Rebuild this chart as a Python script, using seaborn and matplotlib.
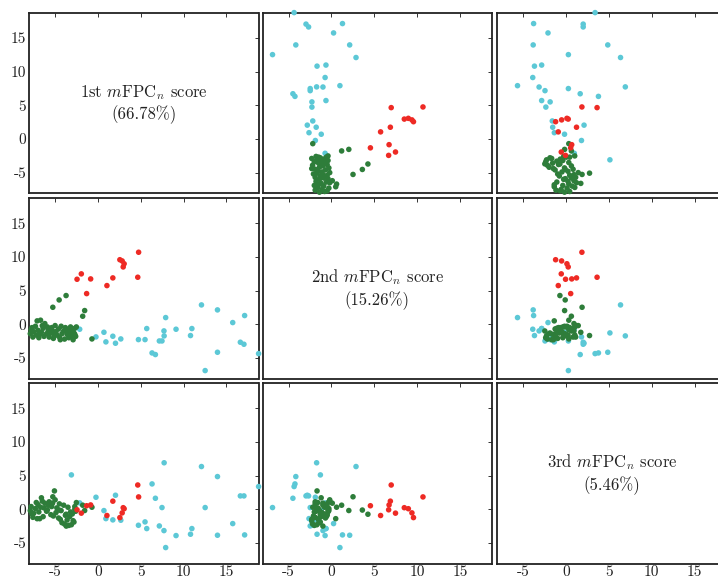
import pandas as pd
import matplotlib
matplotlib.use("Agg")
import matplotlib.pyplot as plt
import seaborn as sns

# mFPC_n scores, one list per group and component
cyan_pc1 = [-3.1, -2.13, -0.23, 0.70, 0.93, 1.74, 2.05, 2.67, 4.73, 5.50,
            5.70, 6.32, 6.71, 7.17, 7.48, 7.71, 7.73, 7.91, 9.12, 10.81,
            10.97, 12.09, 12.52, 13.96, 13.96, 15.74, 16.63, 17.05, 17.13, 18.76]
cyan_pc2 = [-1.29, -0.74, -1.88, -1.19, -2.62, -1.78, -2.82, -2.18, -2.28, -2.28,
            -0.64, -4.26, -4.50, -2.48, -2.48, -0.99, -1.73, 0.99, -0.74, -1.68,
            -0.64, 2.87, -6.88, -4.16, 2.13, 0.25, -2.67, -2.97, 1.29, -4.36]
cyan_pc3 = [5.10, 0.94, 1.78, -0.20, -1.39, -1.58, 2.08, -1.63, -2.38, -1.88,
            -2.87, 3.76, 1.63, -2.48, 0.25, -3.17, 6.90, -5.69, -3.91, -3.71,
            -2.87, 6.34, 0.25, 4.85, -3.86, -2.13, 1.98, 1.98, -3.81, 3.37]

green_pc1 = [-0.70, -1.55, -1.78, -3.72, -4.53, -5.27, -2.52, -5.08,
             -7.9, -7.8, -7.6, -7.5, -7.3, -7.2, -7.1, -7.0, -6.9, -6.7,
             -6.6, -6.4, -6.3, -6.2, -6.0, -5.8, -5.7, -5.5, -5.4, -5.2,
             -5.0, -4.9, -4.8, -4.6, -4.5, -4.3, -4.2, -4.0, -3.9, -3.8,
             -3.6, -3.5, -3.4, -3.3, -3.2, -3.1, -3.0, -2.9, -2.8, -2.7,
             -2.6, -7.7, -6.8, -5.9, -5.3, -4.4, -3.7, -2.7, -6.5]
green_pc2 = [-2.18, 2.03, 1.19, 4.26, 3.61, 2.52, -0.40, -1.68,
             -1.4, -0.8, -1.9, -1.1, -0.3, -1.6, 0.5, -0.9, -2.0, 0.6,
             -1.2, -0.6, -1.8, 0.1, -1.4, -0.9, -1.9, -1.3, -0.5, -2.1,
             -0.2, -1.1, -1.6, -0.7, -1.9, -0.3, -1.4, -1.0, -2.2, -0.5,
             -1.5, -0.8, -2.0, -1.2, -0.4, -1.7, -0.9, -2.3, -1.3, -0.6,
             -1.8, -0.5, -1.5, -0.4, -1.0, -2.3, -1.0, -1.5, -0.2]
green_pc3 = [0.30, -0.19, 0.60, -0.74, -0.12, 1.85, 0.99, 2.72,
             -0.2, 0.4, -1.2, -0.6, 0.1, 1.0, -1.4, 0.7, -0.4, 0.3,
             1.7, -1.1, 0.2, 0.9, -0.3, 0.6, 1.1, -0.8, 0.4, -1.0,
             1.4, -0.5, 0.2, -1.3, 0.8, -0.2, -2.0, 0.6, -2.2, -0.9,
             -1.6, 0.3, -2.4, -1.1, -0.4, -2.3, -0.7, -1.7, -1.9, 0.4,
             -0.3, -0.7, -1.4, -0.1, 0.9, -1.5, -2.5, 0.0, 1.2]

red_pc1 = [-2.44, -1.94, -1.32, -0.85, 1.05, 1.74, 2.56, 2.83, 2.95, 3.06, 4.65, 4.75]
red_pc2 = [6.68, 7.48, 4.55, 6.73, 5.74, 6.88, 9.58, 9.40, 8.51, 8.98, 6.98, 10.69]
red_pc3 = [-0.08, -0.58, 0.52, 0.64, -0.93, 1.20, -1.24, -0.54, 0.23, 0.08, 3.60, 1.83]

score_names = ["1st", "2nd", "3rd"]
explained = ["66.78", "15.26", "5.46"]
tick_vals = [-5, 0, 5, 10, 15]
tick_labels = ["-5", "0", "5", "10", "15"]

palette = {"cyan": "#5cc8d6", "green": "#2e7d3a", "red": "#ee2a24"}

df = pd.concat([
    pd.DataFrame({"pc1": cyan_pc1, "pc2": cyan_pc2, "pc3": cyan_pc3, "group": "cyan"}),
    pd.DataFrame({"pc1": green_pc1, "pc2": green_pc2, "pc3": green_pc3, "group": "green"}),
    pd.DataFrame({"pc1": red_pc1, "pc2": red_pc2, "pc3": red_pc3, "group": "red"}),
], ignore_index=True)
cols = ["pc1", "pc2", "pc3"]

sns.set_style("white")
plt.rcParams["font.family"] = ["cmr10", "DejaVu Serif"]
plt.rcParams["mathtext.fontset"] = "cm"
plt.rcParams["axes.unicode_minus"] = False

W, H = 718, 580
fig = plt.figure(figsize=(W / 100, H / 100), dpi=100)

# panel boxes in pixels (the third column runs past the right edge)
lefts = [29, 262.5, 497.3]
tops = [13, 198.3, 383.3]
pw, ph = 229.5, 180.5

for i in range(3):
    for j in range(3):
        ax = fig.add_axes([lefts[j] / W, 1 - (tops[i] + ph) / H, pw / W, ph / H])
        ax.set_xlim(-8.05, 18.75)
        ax.set_ylim(-8.1, 18.7)
        if i == j:
            ax.text(0.5, 0.5,
                    score_names[i] + r" $m\mathrm{FPC}_n$ score" + "\n(" + explained[i] + "%)",
                    transform=ax.transAxes, ha="center", va="center",
                    fontsize=12, color="#222222", linespacing=1.25)
        else:
            sns.scatterplot(data=df, x=cols[j], y=cols[i], hue="group",
                            palette=palette, s=16, linewidth=0, alpha=1,
                            legend=False, ax=ax, clip_on=False, zorder=3)
        ax.set_xlabel("")
        ax.set_ylabel("")
        ax.set_xticks(tick_vals)
        ax.set_yticks(tick_vals)
        ax.set_xticklabels(tick_labels if i == 2 else [])
        ax.set_yticklabels(tick_labels if j == 0 else [])
        ax.tick_params(direction="in", top=True, right=True, length=3, width=0.7,
                       colors="#333333", labelcolor="#222222", labelsize=11)
        ax.tick_params(axis="x", pad=1)
        ax.tick_params(axis="y", pad=2)
        for sp in ax.spines.values():
            sp.set_color("#222222")
            sp.set_linewidth(1.3)

fig.savefig("out.png", dpi=100, facecolor="white")
